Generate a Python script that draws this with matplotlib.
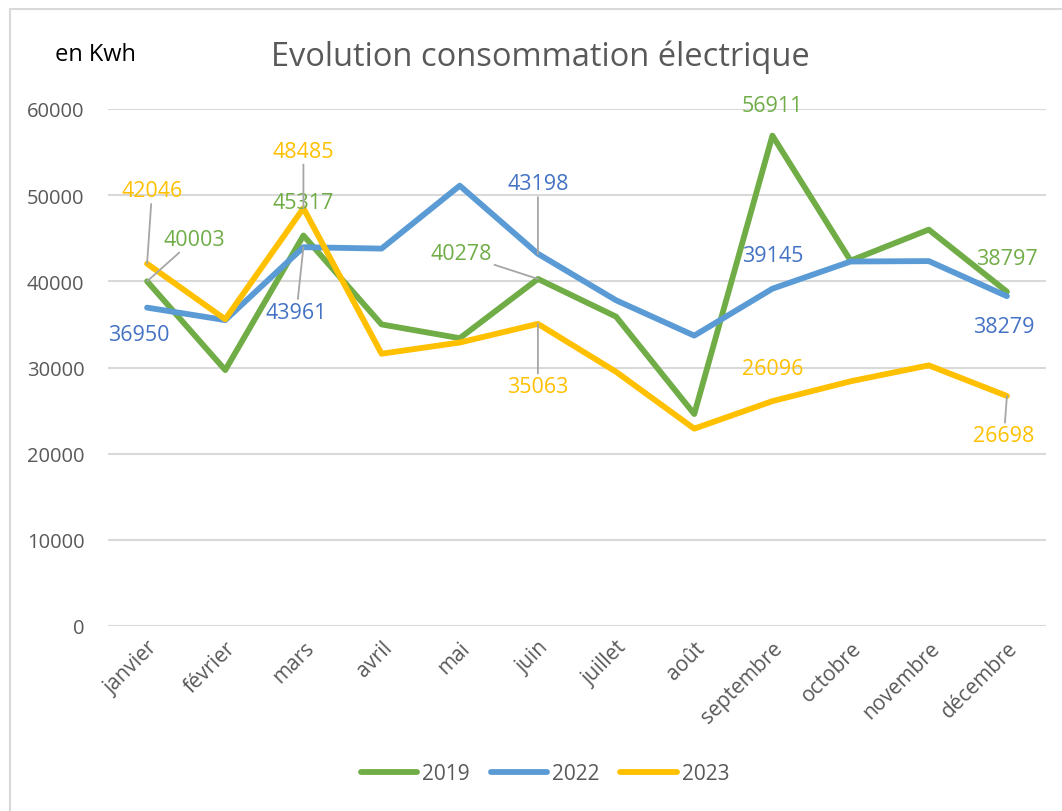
import numpy as np
import matplotlib.pyplot as plt
from matplotlib.patches import Rectangle

# monthly consumption (kWh)
mois = ['janvier', 'février', 'mars', 'avril', 'mai', 'juin', 'juillet',
        'août', 'septembre', 'octobre', 'novembre', 'décembre']
conso_2019 = [40003, 29700, 45317, 35000, 33400, 40278, 35900, 24600, 56911, 42400, 46000, 38797]
conso_2022 = [36950, 35500, 43961, 43800, 51100, 43198, 37800, 33700, 39145, 42300, 42350, 38279]
conso_2023 = [42046, 35600, 48485, 31600, 32900, 35063, 29500, 22900, 26096, 28400, 30250, 26698]

# which points get a data label: index -> (dx px, dy px, leader line)
labels_2019 = {0: (47, 42, True), 2: (0, 33, False), 5: (-77, 25, True),
               8: (0, 30, False), 11: (0, 33, False)}
labels_2022 = {0: (-8, -27, False), 2: (-7, -65, True), 5: (0, 70, True),
               8: (0, 33, False), 11: (-3, -30, False)}
labels_2023 = {0: (5, 73, True), 2: (0, 57, True), 5: (0, -63, True),
               8: (0, 33, False), 11: (-3, -40, True)}

series = [
    ('2019', conso_2019, '#70AD47', '#70AD47', labels_2019),
    ('2022', conso_2022, '#5B9BD5', '#4472C4', labels_2022),
    ('2023', conso_2023, '#FFC000', '#FFC000', labels_2023),
]

plt.rcParams['font.family'] = ['Open Sans', 'DejaVu Sans']
grey = '#595959'

W, H = 1062, 812
fig = plt.figure(figsize=(W / 100, H / 100), dpi=100)
ax = fig.add_axes([108 / W, 1 - 627 / H, (1046 - 108) / W, (627 - 110) / H])

x = np.arange(len(mois))
for name, vals, col, lab_col, labs in series:
    ax.plot(x, vals, color=col, lw=4.2, solid_capstyle='round',
            solid_joinstyle='round', label=name, zorder=3)
    for i, (dx, dy, leader) in labs.items():
        kw = {}
        if leader:
            kw['arrowprops'] = dict(arrowstyle='-', color='#A6A6A6', lw=1.3,
                                    shrinkA=0, shrinkB=0)
        ax.annotate(str(vals[i]), (x[i], vals[i]), xytext=(dx, dy),
                    textcoords='offset pixels', ha='center', va='center',
                    color=lab_col, fontsize=15.5, zorder=4, **kw)

ax.set_xlim(-0.5, 11.5)
ax.set_ylim(0, 60000)
ax.set_yticks(range(0, 60001, 10000))
ax.set_xticks(x)
ax.set_xticklabels(mois, rotation=45, ha='right', rotation_mode='anchor')
ax.tick_params(length=0, labelsize=14.5, labelcolor=grey)
ax.tick_params(axis='x', pad=8, labelsize=15)
ax.tick_params(axis='y', pad=17)
ax.grid(axis='y', color='#D9D9D9', lw=1.5)
ax.set_axisbelow(True)
for s in ax.spines.values():
    s.set_visible(False)

fig.text(540 / W, 1 - 57 / H, 'Evolution consommation électrique',
         ha='center', va='center', fontsize=23.5, color=grey)
fig.text(55 / W, 1 - 55 / H, 'en Kwh', ha='left', va='center',
         fontsize=17, color='black')

fig.legend(loc='center', bbox_to_anchor=(545 / W, 1 - 775 / H), ncol=3,
           frameon=False, fontsize=15, handlelength=2.7, columnspacing=1.0,
           handletextpad=0.25, labelcolor=grey)

# chart area border
fig.patches.append(Rectangle((10 / W, -0.05), 1.1, 1 - 10 / H + 0.05,
                             transform=fig.transFigure, fill=False,
                             edgecolor='#D9D9D9', lw=1.5))

fig.savefig('out.png', dpi=100)
